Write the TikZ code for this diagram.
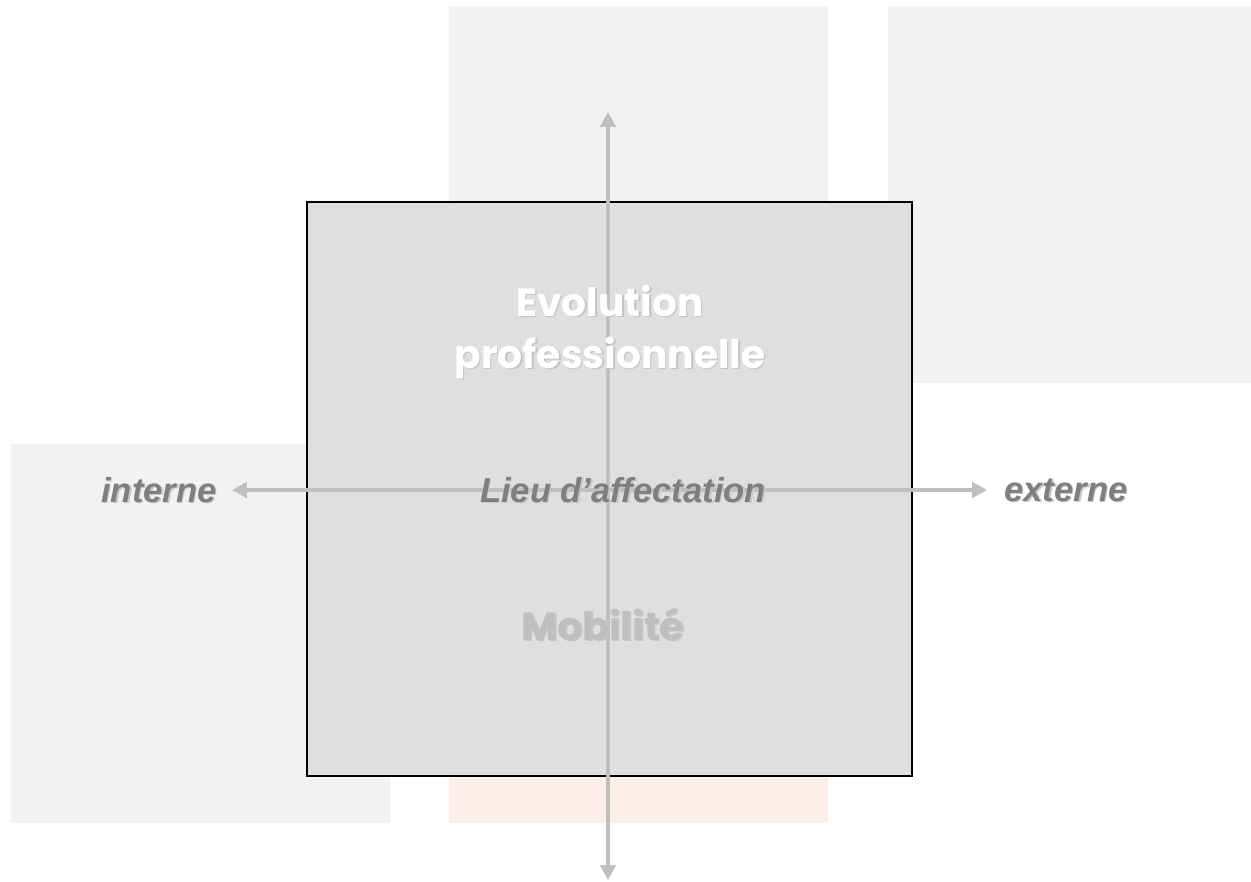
\documentclass[tikz,border=0pt]{standalone}
\usepackage{fontspec}
\setmainfont{Liberation Sans}
\newfontfamily\geofont{Poppins}
\usepackage{tikz}
\usetikzlibrary{arrows.meta}

\definecolor{paneGray}{HTML}{F2F2F2}
\definecolor{panePeach}{HTML}{FDEEEA}
\definecolor{boxGray}{HTML}{DFDFDF}
\definecolor{axisGray}{HTML}{BFBFBF}
\definecolor{textGray}{HTML}{7F7F7F}
\definecolor{shadeGray}{HTML}{C4C4C4}
\definecolor{shadeLight}{HTML}{C8C8C8}

\tikzset{
  pane/.style={fill=#1, draw=none},
  axis/.style={axisGray, line width=2.2pt, -{Triangle[length=3mm, width=3.1mm]}},
  titletext/.style={font=\geofont\bfseries\fontsize{22.3}{29.6}\selectfont, align=center},
  sidetext/.style={font=\bfseries\itshape\fontsize{19.7}{24}\selectfont}
}

\begin{document}
\begin{tikzpicture}[x=0.02cm, y=-0.02cm]
    \useasboundingbox (0,0) rectangle (1251,882);

    % draw background panes
    \fill[pane=paneGray]  (449,6)   rectangle (828,385);
    \fill[pane=paneGray]  (888,6)   rectangle (1251,383);
    \fill[pane=paneGray]  (11,444)  rectangle (390,823);
    \fill[pane=panePeach] (449,444) rectangle (828,823);

    % draw main box
    \filldraw[fill=boxGray, draw=black, line width=1pt] (307,202) rectangle (912,776);

    % axis end points
    \coordinate (top)    at (608,112);
    \coordinate (bottom) at (608,880);
    \coordinate (left)   at (232,490);
    \coordinate (right)  at (987,490);
    \coordinate (mid)    at (608,490);

    % draw axes
    \draw[axis] (mid) -- (top);
    \draw[axis] (mid) -- (bottom);
    \draw[axis] (mid) -- (left);
    \draw[axis] (mid) -- (right);

    % draw labels with shadows
    \node[titletext, shadeGray] (evo-sh) at (611.5,333.5) {Evolution\\professionnelle};
    \node[titletext, white]     (evo)    at (610,332) {Evolution\\professionnelle};

    \node[titletext, shadeGray] (mob-sh) at (604.5,625.5) {Mobilité};
    \node[titletext, axisGray]  (mob)    at (603,624) {Mobilité};

    \node[sidetext, shadeLight] (lieu-sh) at (624.5,491.5) {Lieu d’affectation};
    \node[sidetext, textGray]   (lieu)    at (623,490) {Lieu d’affectation};

    \node[sidetext, shadeLight] (int-sh) at (160.5,491.5) {interne};
    \node[sidetext, textGray]   (int)    at (159,490) {interne};

    \node[sidetext, shadeLight] (ext-sh) at (1067.5,491.5) {externe};
    \node[sidetext, textGray]   (ext)    at (1066,490) {externe};
\end{tikzpicture}
\end{document}
